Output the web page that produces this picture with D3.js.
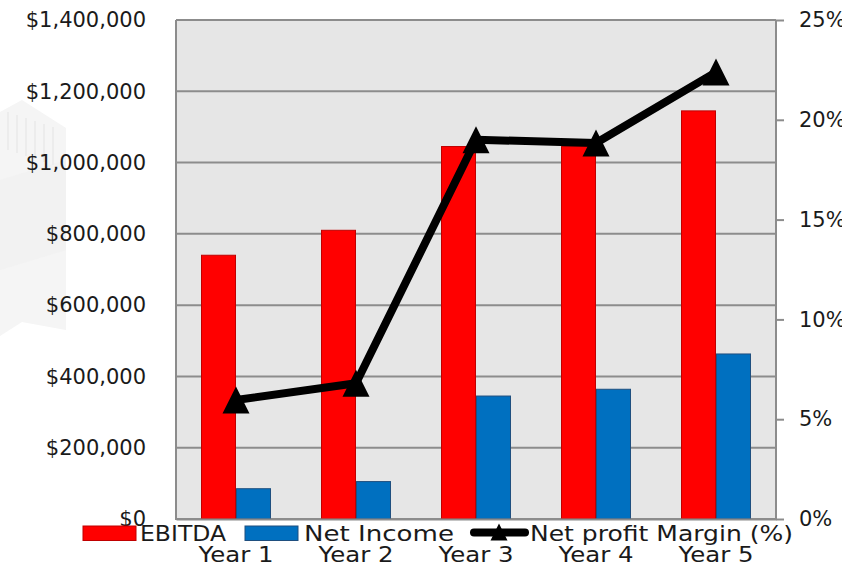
<!DOCTYPE html>
<html>
<head>
<meta charset="utf-8">
<script src="https://cdn.jsdelivr.net/npm/d3@7/dist/d3.min.js"></script>
<style>
  html, body { margin: 0; padding: 0; background: #ffffff; }
  svg { display: block; font-family: "DejaVu Sans", sans-serif; }
</style>
</head>
<body>
<svg id="chart" width="842" height="564"></svg>
<script>
// ---- data ----
const categories = ["Year 1", "Year 2", "Year 3", "Year 4", "Year 5"];
const ebitda = [740000, 810000, 1045000, 1045000, 1145000];
const netIncome = [85000, 105000, 345000, 364000, 463000];
const netProfitMargin = [5.96, 6.8, 19.0, 18.84, 22.39];
const leftTicks = [0, 200000, 400000, 600000, 800000, 1000000, 1200000, 1400000];
const rightTicks = [0, 5, 10, 15, 20, 25];
const seriesNames = ["EBITDA", "Net Income", "Net profit Margin (%)"];

// ---- layout ----
const svg = d3.select("#chart");
const plot = { left: 176, right: 776, top: 20, bottom: 519 };
const textColor = "#1a1a1a";
const gridColor = "#8c8c8c";

// faint background watermark (left side)
const wm = svg.append("g");
wm.append("path")
  .attr("d", "M0,112 L22,100 L66,128 L66,330 L22,322 L0,336 Z")
  .attr("fill", "#f5f5f5");
wm.append("path")
  .attr("d", "M0,180 L66,160 L66,250 L0,270 Z")
  .attr("fill", "#f0f0f0").attr("opacity", 0.5);
for (let i = 0; i < 6; i++) {
  wm.append("line")
    .attr("x1", 8 + i * 9).attr("x2", 8 + i * 9)
    .attr("y1", 112 + i * 3).attr("y2", 150 + i * 3)
    .attr("stroke", "#ececec").attr("stroke-width", 2);
}

const x = d3.scaleBand().domain(categories).range([plot.left, plot.right]).padding(0);
const sub = d3.scaleBand().domain(["ebitda", "net"]).range([25, 95]).padding(0);
const yL = d3.scaleLinear().domain([0, 1400000]).range([plot.bottom, plot.top]);
const yR = d3.scaleLinear().domain([0, 25]).range([plot.bottom, plot.top]);

// plot background
svg.append("rect")
  .attr("x", plot.left).attr("y", plot.top)
  .attr("width", plot.right - plot.left).attr("height", plot.bottom - plot.top)
  .attr("fill", "#e6e6e6");

// gridlines
svg.append("g").selectAll("line").data(leftTicks).join("line")
  .attr("x1", plot.left).attr("x2", plot.right)
  .attr("y1", d => yL(d)).attr("y2", d => yL(d))
  .attr("stroke", gridColor).attr("stroke-width", 2);

// bars
const barSeries = [
  { key: "ebitda", values: ebitda, fill: "#ff0000", stroke: "#c00000" },
  { key: "net", values: netIncome, fill: "#0070c0", stroke: "#1f4f7f" }
];
barSeries.forEach(s => {
  svg.append("g").selectAll("rect").data(categories).join("rect")
    .attr("x", (c) => x(c) + sub(s.key) + 0.5)
    .attr("y", (c, i) => yL(s.values[i]))
    .attr("width", sub.bandwidth() - 1)
    .attr("height", (c, i) => yL(0) - yL(s.values[i]))
    .attr("fill", s.fill)
    .attr("stroke", s.stroke).attr("stroke-width", 1);
});

// axes lines (frame)
svg.append("line").attr("x1", plot.left).attr("x2", plot.left)
  .attr("y1", plot.top).attr("y2", plot.bottom + 1)
  .attr("stroke", gridColor).attr("stroke-width", 2);
svg.append("line").attr("x1", plot.right).attr("x2", plot.right)
  .attr("y1", plot.top).attr("y2", plot.bottom + 1)
  .attr("stroke", gridColor).attr("stroke-width", 2);

// left axis
const axL = svg.append("g").attr("transform", `translate(${plot.left},0)`)
  .call(d3.axisLeft(yL).tickValues(leftTicks).tickFormat(d3.format("$,.0f")).tickSize(0).tickPadding(30));
axL.select(".domain").remove();
axL.selectAll("text").attr("fill", textColor).attr("font-size", 21)
  .attr("font-family", "'DejaVu Sans', sans-serif");

// right axis
const axR = svg.append("g").attr("transform", `translate(${plot.right},0)`)
  .call(d3.axisRight(yR).tickValues(rightTicks).tickFormat(d => d + "%").tickSize(8).tickPadding(15));
axR.select(".domain").remove();
axR.selectAll("line").attr("stroke", gridColor).attr("stroke-width", 2);
axR.selectAll("text").attr("fill", textColor).attr("font-size", 21)
  .attr("font-family", "'DejaVu Sans', sans-serif");

// bottom axis
const axB = svg.append("g").attr("transform", `translate(0,${plot.bottom})`)
  .call(d3.axisBottom(x).tickSize(0).tickPadding(28));
axB.select(".domain").attr("stroke", gridColor).attr("stroke-width", 2);
axB.selectAll("text").attr("fill", textColor).attr("font-size", 21)
  .attr("font-family", "'DejaVu Sans', sans-serif")
  .attr("textLength", 75).attr("lengthAdjust", "spacingAndGlyphs");

// margin line
const cx = c => x(c) + x.bandwidth() / 2;
const line = d3.line().x((d, i) => cx(categories[i])).y(d => yR(d));
svg.append("path").datum(netProfitMargin)
  .attr("d", line).attr("fill", "none")
  .attr("stroke", "#000").attr("stroke-width", 8).attr("stroke-linejoin", "round");

const tri = (size) => `M0,${-size/2} L${size/2},${size/2} L${-size/2},${size/2} Z`;
svg.append("g").selectAll("path").data(netProfitMargin).join("path")
  .attr("transform", (d, i) => `translate(${cx(categories[i])},${yR(d)})`)
  .attr("d", tri(27)).attr("fill", "#000");

// legend
const lg = svg.append("g");
const legendItems = [
  { name: seriesNames[0], type: "rect", fill: "#ff0000", stroke: "#c00000", sx: 83, tx: 140, tw: 86 },
  { name: seriesNames[1], type: "rect", fill: "#0070c0", stroke: "#1f4f7f", sx: 245, tx: 304, tw: 150 },
  { name: seriesNames[2], type: "line", sx: 470, tx: 530, tw: 263 }
];
legendItems.forEach(it => {
  if (it.type === "rect") {
    lg.append("rect").attr("x", it.sx).attr("y", 526).attr("width", 53).attr("height", 14.5)
      .attr("fill", it.fill).attr("stroke", it.stroke).attr("stroke-width", 1);
  } else {
    lg.append("line").attr("x1", it.sx + 4).attr("x2", it.sx + 55).attr("y1", 532.5).attr("y2", 532.5)
      .attr("stroke", "#000").attr("stroke-width", 8).attr("stroke-linecap", "round");
    lg.append("path").attr("transform", `translate(${it.sx + 29},532)`).attr("d", tri(17)).attr("fill", "#000");
  }
  lg.append("text").attr("x", it.tx).attr("y", 541)
    .attr("font-size", 21).attr("fill", textColor)
    .attr("textLength", it.tw).attr("lengthAdjust", "spacingAndGlyphs")
    .text(it.name);
});
</script>
</body>
</html>
